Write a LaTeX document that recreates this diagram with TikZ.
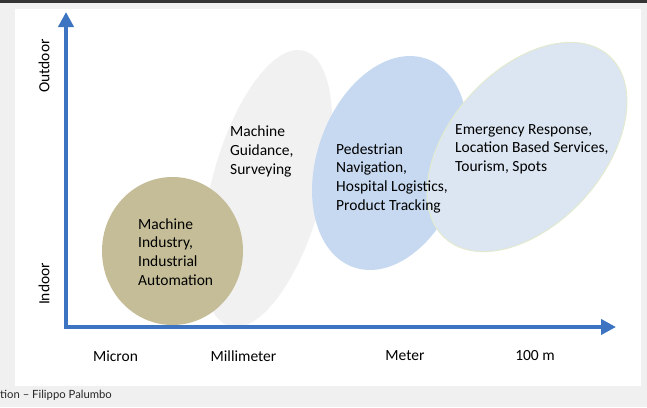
\documentclass[tikz,border=0pt]{standalone}
\usepackage{fontspec}
\setmainfont{Carlito}
\newfontfamily\footfont{Lato}
\usetikzlibrary{arrows.meta}

\definecolor{axisblue}{RGB}{60,116,194}
\definecolor{olive}{RGB}{196,189,151}
\definecolor{paleGray}{RGB}{241,241,241}
\definecolor{midBlue}{RGB}{198,217,241}
\definecolor{paleBlue}{RGB}{220,230,242}
\definecolor{paleRim}{RGB}{226,234,208}
\definecolor{frameGray}{RGB}{240,240,240}
\definecolor{topBar}{RGB}{52,52,52}

\tikzset{
  label/.style={font=\fontsize{15.5}{18.7}\selectfont, text=black, inner sep=0pt, align=left},
  axislabel/.style={font=\fontsize{15.5}{18.7}\selectfont, text=black, inner sep=0pt},
  axisline/.style={draw=axisblue, line width=4.5pt, line join=miter,
    {Triangle[length=15pt,width=15pt]}-{Triangle[length=15pt,width=15pt]}},
}

\begin{document}
\begin{tikzpicture}[x=1pt,y=-1pt]
  % page frame
  \useasboundingbox (0,0) rectangle (647,407);
  \fill[frameGray] (0,0) rectangle (647,407);
  \fill[topBar] (0,0) rectangle (647,3);
  \fill[white] (15,9) rectangle (641,386);

  % application areas
  \fill[paleGray, shift={(267,188.5)}, rotate=75] (0,0) ellipse [x radius=142.6pt, y radius=55.5pt];
  \fill[olive] (172.5,251) ellipse [x radius=70.5pt, y radius=74pt];
  \fill[midBlue, shift={(390,163)}, rotate=70.7] (0,0) ellipse [x radius=110.4pt, y radius=73pt];
  \filldraw[fill=paleBlue, draw=paleRim, line width=1pt, shift={(527,147)}, rotate=48] (0,0) ellipse [x radius=122.6pt, y radius=76.8pt];

  % axes
  \coordinate (ytop) at (66,12);
  \coordinate (origin) at (66,327);
  \coordinate (xend) at (616,327);
  \draw[axisline] (ytop) -- (origin) -- (xend);

  % area labels
  \node[label, anchor=west] (industry) at (138,252) {Machine\\Industry,\\Industrial\\Automation};
  \node[label, anchor=west] (guidance) at (230,151.5) {Machine\\Guidance,\\Surveying};
  \node[label, anchor=west] (pedestrian) at (336,178) {Pedestrian\\Navigation,\\Hospital Logistics,\\Product Tracking};
  \node[label, anchor=west] (emergency) at (455,149) {Emergency Response,\\Location Based Services,\\Tourism, Spots};

  % axis labels
  \node[axislabel] (micron) at (115.5,356) {Micron};
  \node[axislabel] (milli) at (243.5,356) {Millimeter};
  \node[axislabel] (meter) at (405,356) {Meter};
  \node[axislabel] (hundred) at (535,356) {100 m};
  \node[axislabel, rotate=90] (outdoor) at (44,66) {Outdoor};
  \node[axislabel, rotate=90] (indoor) at (44,284) {Indoor};

  % footer
  \node[font=\footfont\fontsize{11.3}{13}\selectfont, text=black!85, inner sep=0pt, anchor=base west] (footer) at (0,398) {tion – Filippo Palumbo};
\end{tikzpicture}
\end{document}
